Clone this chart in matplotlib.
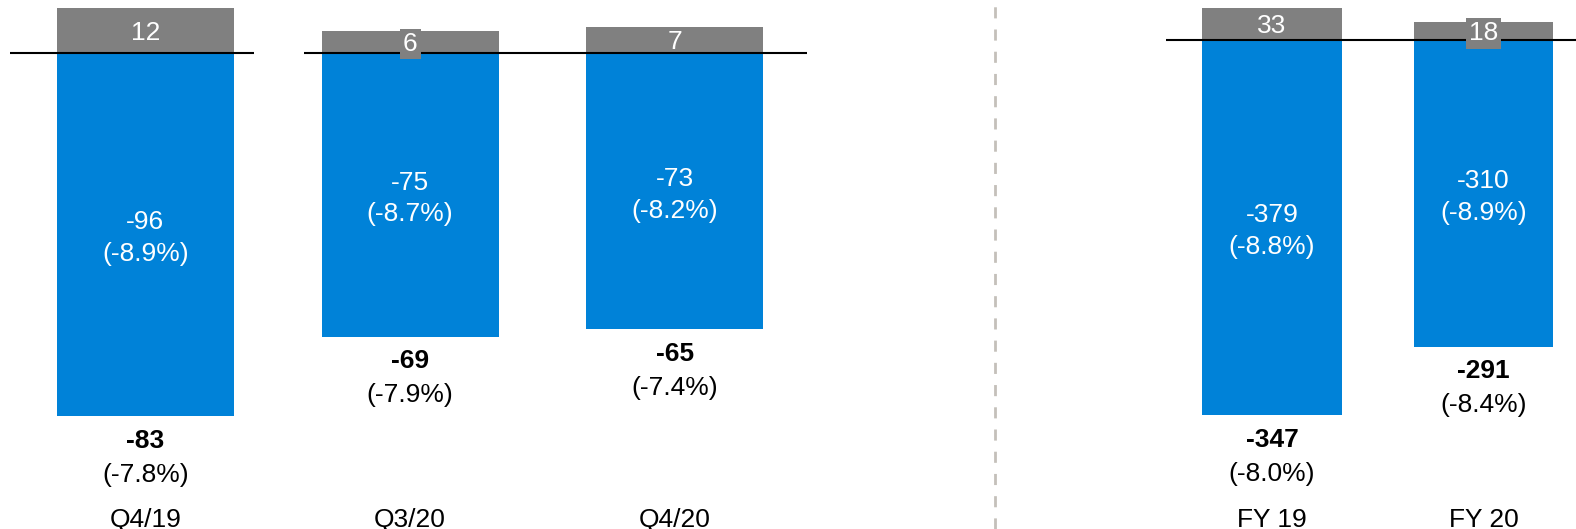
import matplotlib
matplotlib.use("Agg")
import matplotlib.pyplot as plt
from matplotlib.lines import Line2D
from matplotlib.transforms import blended_transform_factory

plt.rcParams['font.family'] = ['Liberation Sans', 'DejaVu Sans']

# ---- data ----
q_categories = ['Q4/19', 'Q3/20', 'Q4/20']
q_blue = [-96, -75, -73]
q_blue_pct = ['-8.9%', '-8.7%', '-8.2%']
q_grey = [12, 6, 7]
q_net = [-83, -69, -65]
q_net_pct = ['-7.8%', '-7.9%', '-7.4%']

fy_categories = ['FY 19', 'FY 20']
fy_blue = [-379, -310]
fy_blue_pct = ['-8.8%', '-8.9%']
fy_grey = [33, 18]
fy_net = [-347, -291]
fy_net_pct = ['-8.0%', '-8.4%']

BLUE = '#0082D8'
GREY = '#808080'
FS = 19

W, H = 1568, 526
fig = plt.figure(figsize=(15.76, 5.29), dpi=100)


def panel(left_px, right_px, centers0_px, spacing_px, base_px, px_per_unit,
          cats, blue, blue_pct, grey, net, net_pct, width, lines):
    ax = fig.add_axes([left_px / W, 0, (right_px - left_px) / W, 1])
    ax.set_xlim((left_px - centers0_px) / spacing_px, (right_px - centers0_px) / spacing_px)
    ax.set_ylim(-(H - base_px) / px_per_unit, base_px / px_per_unit)
    ax.axis('off')
    x = list(range(len(cats)))
    ax.bar(x, blue, width=width, color=BLUE, zorder=2)
    ax.bar(x, grey, width=width, color=GREY, zorder=2)
    for a, b in lines:
        ax.plot([a, b], [0, 0], color='black', lw=1.5, zorder=3, solid_capstyle='butt')
    tr = blended_transform_factory(ax.transData, ax.transAxes)
    for i in x:
        ax.annotate(f"{blue[i]}\n({blue_pct[i]})", xy=(i, blue[i] / 2), xytext=(0, -2.5),
                    textcoords='offset points', ha='center', va='center',
                    color='white', fontsize=FS, linespacing=1.4, zorder=4)
        small = grey[i] * px_per_unit < 25
        bbox = dict(boxstyle='square,pad=0.12', fc=GREY, ec='none') if small else None
        ax.annotate(f"{grey[i]}", xy=(i, grey[i] / 2), xytext=(0, -1.5),
                    textcoords='offset points', ha='center', va='center', color='white',
                    fontsize=FS, zorder=5, bbox=bbox)
        ax.annotate(f"{net[i]}", xy=(i, blue[i]), xytext=(0, -17.5), textcoords='offset points',
                    ha='center', va='center', fontsize=FS, fontweight='bold', color='black')
        ax.annotate(f"({net_pct[i]})", xy=(i, blue[i]), xytext=(0, -42), textcoords='offset points',
                    ha='center', va='center', fontsize=FS, color='black')
        ax.text(i, 1 - 517 / H, cats[i], transform=tr, ha='center', va='center',
                fontsize=FS, color='black')
    return ax


panel(0, 815, 144.5, 263.5, 53, 3.76, q_categories, q_blue, q_blue_pct, q_grey,
      q_net, q_net_pct, 0.668, [(-0.51, 0.412), (0.598, 2.50)])
panel(1000, 1568, 1265.5, 210.5, 40, 0.984, fy_categories, fy_blue, fy_blue_pct, fy_grey,
      fy_net, fy_net_pct, 0.66, [(-0.50, 1.44)])

fig.add_artist(Line2D([990 / W, 990 / W], [0, 1], transform=fig.transFigure,
                      color='#c4c0ba', lw=2, linestyle=(0, (4, 4))))

fig.savefig('out.png', dpi=100)
